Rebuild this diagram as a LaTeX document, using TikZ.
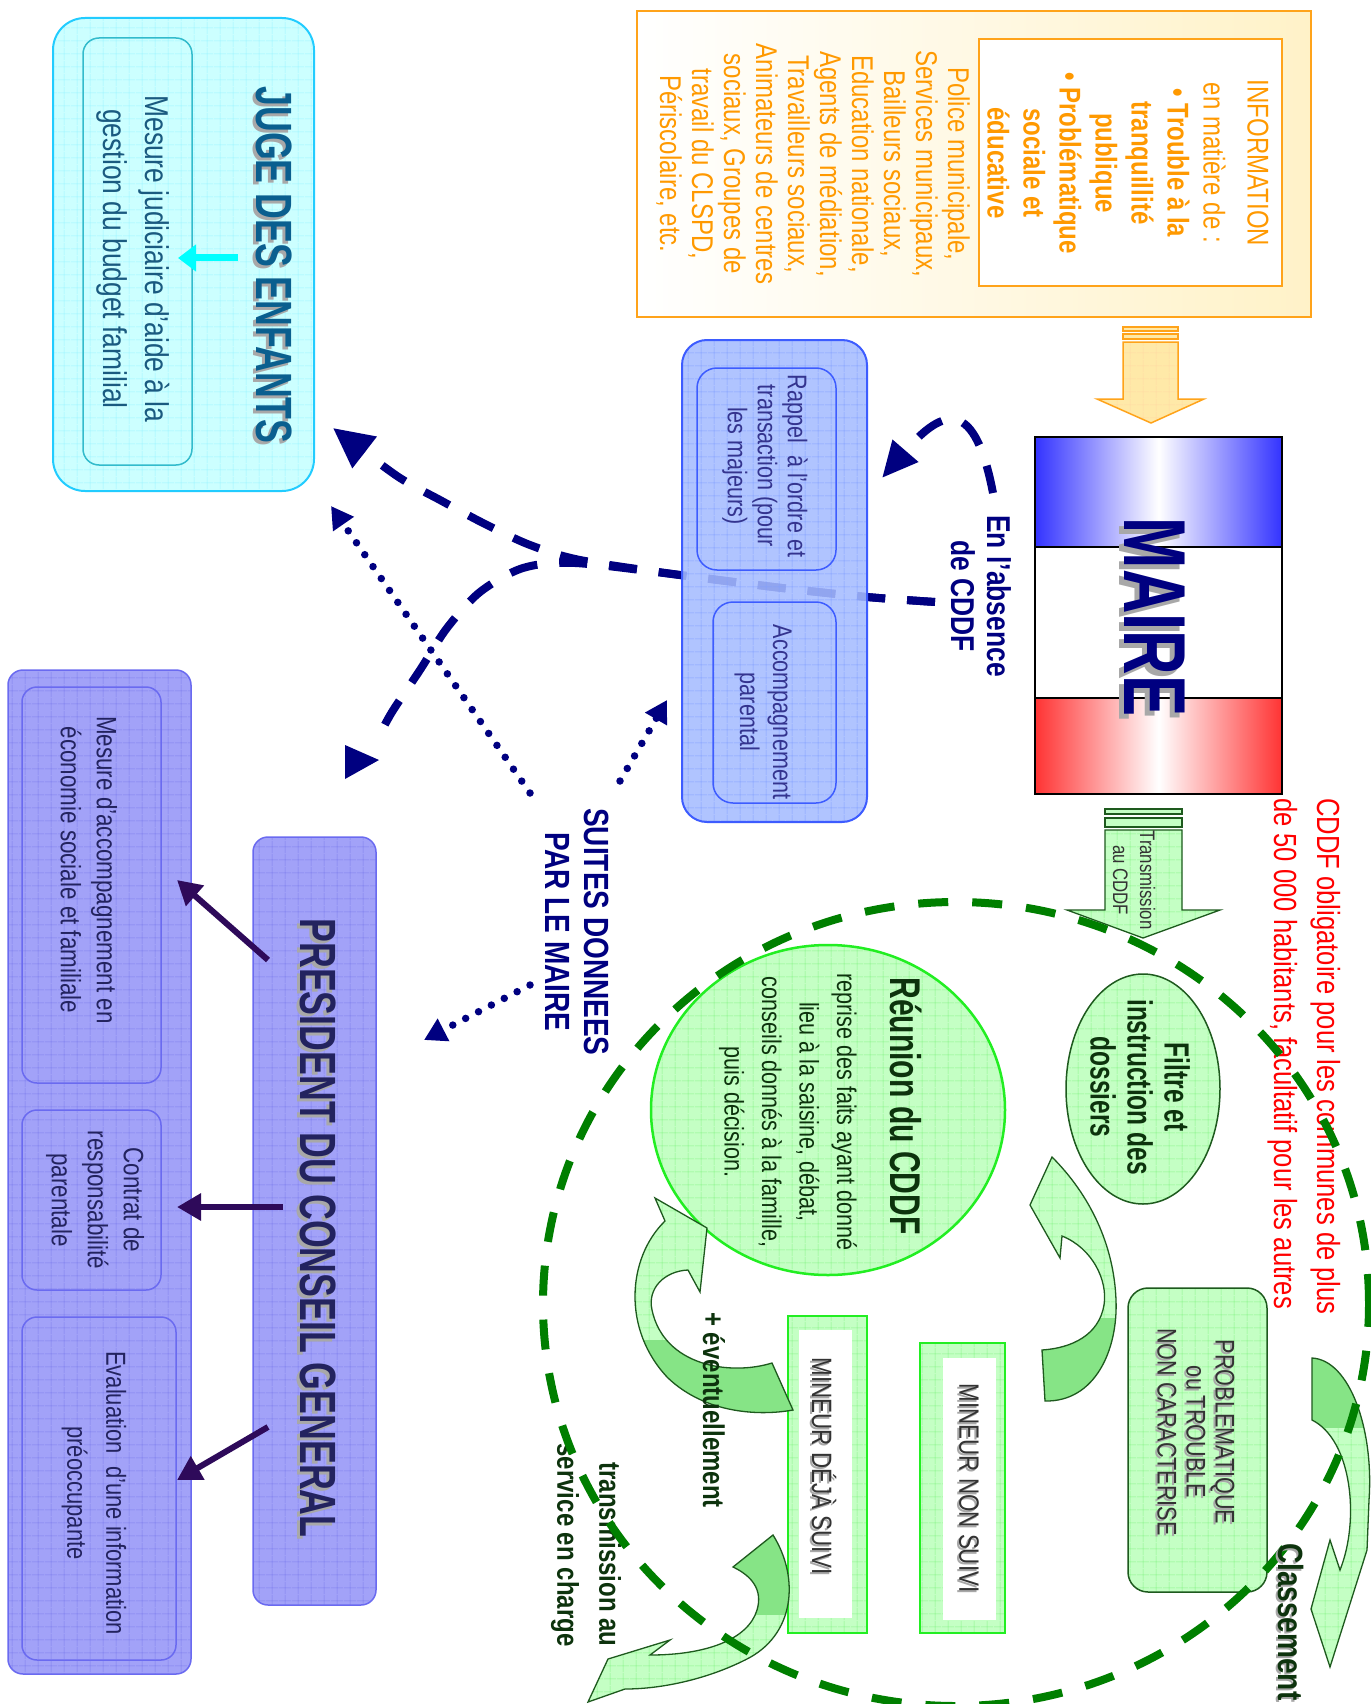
\documentclass[tikz,border=0pt]{standalone}
\usepackage{fontspec}
\setmainfont[FakeStretch=0.8]{Liberation Sans}
\newfontfamily\narr[FakeStretch=0.7]{Liberation Sans}
\usetikzlibrary{arrows.meta,patterns.meta,shapes.geometric}
\definecolor{orangeC}{HTML}{FF9900}
\definecolor{orangeB}{HTML}{FFA31A}
\definecolor{orangeL}{HTML}{FFE9A8}
\definecolor{infoY}{HTML}{FFF2C8}
\definecolor{navyC}{HTML}{000080}
\definecolor{flagB}{HTML}{3333FF}
\definecolor{flagR}{HTML}{FF3333}
\definecolor{boxB}{HTML}{A6BCFF}
\definecolor{boxBg}{HTML}{809EFF}
\definecolor{boxBd}{HTML}{3D5CFF}
\definecolor{txtB}{HTML}{34348F}
\definecolor{cyanF}{HTML}{CCFFFF}
\definecolor{cyanG}{HTML}{9EF5FF}
\definecolor{cyanBd}{HTML}{22CCFF}
\definecolor{cyanIn}{HTML}{33BBCC}
\definecolor{cyanArr}{HTML}{00FFFF}
\definecolor{jugeT}{HTML}{0A5F8F}
\definecolor{jugeTxt}{HTML}{1A5A80}
\definecolor{lavF}{HTML}{A2A2F8}
\definecolor{lavG}{HTML}{8080EE}
\definecolor{lavBd}{HTML}{6A6AF0}
\definecolor{cgT}{HTML}{23235F}
\definecolor{cgA}{HTML}{2E0A5A}
\definecolor{grF}{HTML}{C4FFC4}
\definecolor{grG}{HTML}{8CF58C}
\definecolor{grBd}{HTML}{1E5A1E}
\definecolor{grBright}{HTML}{22EE22}
\definecolor{grDash}{HTML}{007F00}
\definecolor{grDark}{HTML}{86E486}
\definecolor{grTxt}{HTML}{0D330D}
\definecolor{grayT}{HTML}{333333}
\definecolor{shadowC}{HTML}{A8A8A8}
\newcommand\maireF{\narr\bfseries\fontsize{88}{88}\selectfont}
\newcommand\jugeF{\narr\bfseries\fontsize{51}{51}\selectfont}
\newcommand\presF{\narr\bfseries\fontsize{51}{51}\selectfont}
\newcommand\probF{\fontsize{27}{29}\selectfont}
\newcommand\minF{\fontsize{28}{30}\selectfont}
\newcommand\classF{\bfseries\fontsize{35}{35}\selectfont}
\def\gAa{(1312,1358) .. controls (1350,1360) and (1374,1430) .. (1369,1500) -- (1367,1550) -- (1330,1667) -- (1311,1609) -- (1330,1540) -- (1340,1570) .. controls (1360,1520) and (1352,1440) .. (1312,1420) -- cycle}
\def\gAb{(1045,1401) .. controls (1095,1402) and (1118,1350) .. (1116,1300) .. controls (1114,1245) and (1090,1195) .. (1052,1157) -- (1030,1205) -- (1060,1258) -- (1062,1236) .. controls (1092,1248) and (1108,1280) .. (1104,1305) .. controls (1099,1335) and (1072,1348) .. (1042,1350) -- cycle}
\def\gAc{(793,1410) -- (772,1363) .. controls (730,1376) and (664,1366) .. (652,1310) .. controls (647,1288) and (665,1271) .. (688,1270) -- (700,1292) -- (707,1228) -- (655,1198) -- (665,1221) .. controls (627,1258) and (622,1330) .. (668,1378) .. controls (706,1414) and (760,1416) .. (793,1410) -- cycle}
\def\gAd{(733,1567) -- (773,1535) .. controls (800,1578) and (795,1636) .. (745,1660) .. controls (705,1680) and (660,1689) .. (625,1689) -- (588,1702) -- (608,1659) -- (670,1640) -- (650,1655) .. controls (705,1655) and (748,1640) .. (757,1610) .. controls (763,1590) and (752,1576) .. (733,1567) -- cycle}
\begin{document}
\begin{tikzpicture}[x=1pt,y=-1pt,
  gridfill/.style 2 args={preaction={fill=#1},pattern={Hatch[distance=13pt,angle=0,line width=0.5pt]},pattern color=#2},
  rtext/.style={rotate=-90,align=center,inner sep=0pt},
  navydash/.style={draw=navyC,line width=8pt,dash pattern=on 28pt off 22pt},
  navydot/.style={draw=navyC,line width=7.5pt,dash pattern=on 0pt off 14.5pt,line cap=round,-{Triangle[length=22pt,width=24pt]}},
  cgarrow/.style={draw=cgA,line width=6pt,-{Triangle[length=24pt,width=26pt]}},
  garrow/.style={draw=grBd,line width=1.3pt},
  box/.style={inner sep=0pt,outer sep=0pt}]
\useasboundingbox (0,0) rectangle (1370,1704);
\fill[white] (0,0) rectangle (1370,1704);

% ---------- INFORMATION ----------
\node[box,draw=orangeB,line width=2pt,left color=white,right color=infoY,minimum width=674pt,minimum height=306pt] (info) at (974,164) {};
\node[box,draw=orangeB,line width=2pt,fill=white,minimum width=303pt,minimum height=247pt] (infoin) at (1130.5,162.5) {};
\node[rtext,text=orangeC,font=\fontsize{30}{36}\selectfont] (infotxt) at (1128,163) {INFORMATION\\[8pt] en matière de :\\ \textbf{• Trouble à la}\\ \textbf{tranquillité}\\ \textbf{publique}\\ \textbf{• Problématique}\\ \textbf{sociale et}\\ \textbf{éducative}};
\node[rtext,text=orangeC,font=\fontsize{30}{32}\selectfont] (police) at (813,164) {Police municipale,\\Services municipaux,\\Bailleurs sociaux,\\Education nationale,\\Agents de médiation,\\Travailleurs sociaux,\\Animateurs de centres\\sociaux, Groupes de\\travail du CLSPD,\\Périscolaire, etc.};
% orange block arrow
\draw[orangeB,line width=1.2pt,fill=orangeL] (1123,327) rectangle (1178,331);
\draw[orangeB,line width=1.2pt,fill=orangeL] (1123,334) rectangle (1178,339);
\draw[orangeB,line width=1.5pt,gridfill={orangeL}{orangeB!40}] (1123,342) -- (1178,342) -- (1178,399) -- (1204,399) -- (1151,423) -- (1097,399) -- (1123,399) -- cycle;

% ---------- MAIRE flag ----------
\node[box,minimum width=247pt,minimum height=110pt,left color=flagB,right color=flagB,middle color=white] (flagb) at (1158.5,492) {};
\node[box,minimum width=247pt,minimum height=151pt,fill=white] (flagw) at (1158.5,622.5) {};
\node[box,minimum width=247pt,minimum height=96pt,left color=flagR,right color=flagR,middle color=white] (flagr) at (1158.5,746) {};
\draw[black,line width=2pt] (flagb.north west) rectangle (flagr.south east);
\draw[black,line width=2pt] (flagw.north west) -- (flagw.north east) (flagw.south west) -- (flagw.south east);
\node[rtext,text=shadowC,font=\maireF] at (1150,622) {MAIRE};
\node[rtext,text=navyC,font=\maireF] (maire) at (1155,617) {MAIRE};

% ---------- navy dashed curves (under blue box) ----------
\coordinate (cs) at (935,602);
\coordinate (cjuge) at (333,428);
\coordinate (cpres) at (378,738);
\draw[navydash,-{Triangle[length=40pt,width=38pt]}] plot[smooth] coordinates {(cs) (867,597) (782,588) (680,575) (580,560) (530,545) (485,524) (440,500) (397,476) (cjuge)};
\draw[navydash] plot[smooth] coordinates {(cs) (867,597) (782,588) (680,575) (575,563) (523,568) (480,592) (447,628) (420,670) (392,712) (cpres)};
\fill[navyC] (345,745) -- (379,760) -- (345,779) -- cycle;

% ---------- blue box ----------
\node[box,draw=boxBd,line width=2pt,rounded corners=25pt,gridfill={boxB}{boxBg},fill opacity=0.88,minimum width=185pt,minimum height=482pt] (bluebox) at (774.5,581) {};
\node[box,draw=boxBd,line width=1.5pt,rounded corners=20pt,minimum width=139pt,minimum height=202pt] (rappel) at (766.5,469) {};
\node[box,draw=boxBd,line width=1.5pt,rounded corners=20pt,minimum width=123pt,minimum height=201pt] (accomp) at (774.5,702.5) {};
\node[rtext,text=txtB,font=\fontsize{27}{30}\selectfont] (rappeltxt) at (765,466) {Rappel\ \ à l’ordre et\\transaction (pour\\les majeurs)};
\node[rtext,text=txtB,font=\fontsize{27}{33}\selectfont] (accomptxt) at (763,712) {Accompagnement\\parental};

% ---------- curve C ----------
\coordinate (ccs) at (993,493);
\coordinate (cce) at (882,478);
\draw[navydash,-{Triangle[length=36pt,width=32pt]}] (ccs) .. controls (975,400) and (945,405) .. (cce);
\node[rtext,text=navyC,font=\bfseries\fontsize{33}{36}\selectfont] (absence) at (981,596) {En l’absence\\de CDDF};

% ---------- JUGE ----------
\node[box,draw=cyanBd,line width=2pt,rounded corners=32pt,gridfill={cyanF}{cyanG},minimum width=261pt,minimum height=473pt] (juge) at (183.5,254.5) {};
\node[box,draw=cyanIn,line width=1.5pt,rounded corners=16pt,minimum width=109pt,minimum height=427pt] (jugein) at (137.5,251.5) {};
\node[rtext,text=shadowC,font=\jugeF] at (271,268) {JUGE DES ENFANTS};
\node[rtext,text=jugeT,font=\jugeF] (jugetxt) at (274,265) {JUGE DES ENFANTS};
\node[rtext,text=jugeTxt,font=\fontsize{33}{42}\selectfont] (jugeintxt) at (133,259) {Mesure judiciaire d’aide à la\\gestion du budget familial};
\coordinate (cyS) at (238,258);
\coordinate (cyE) at (178,258);
\draw[cyanArr,line width=7pt,-{Triangle[length=18pt,width=26pt]}] (cyS) -- (cyE);

% ---------- PRESIDENT / CG ----------
\node[box,draw=lavBd,line width=1.5pt,rounded corners=15pt,gridfill={lavF}{lavG},minimum width=183pt,minimum height=1004pt] (cg) at (99.5,1172) {};
\node[box,draw=lavBd,line width=1.5pt,rounded corners=15pt,minimum width=139pt,minimum height=396pt] (mesure) at (91.5,885) {};
\node[box,draw=lavBd,line width=1.5pt,rounded corners=15pt,minimum width=139pt,minimum height=180pt] (contrat) at (91.5,1200) {};
\node[box,draw=lavBd,line width=1.5pt,rounded corners=15pt,minimum width=154pt,minimum height=343pt] (evalu) at (99,1488.5) {};
\node[box,draw=lavBd,line width=1.5pt,rounded corners=15pt,gridfill={lavF}{lavG},minimum width=123pt,minimum height=768pt] (pres) at (314.5,1221) {};
\node[rtext,text=shadowC,font=\presF] at (315,1231) {PRESIDENT DU CONSEIL GENERAL};
\node[rtext,text=cgT,font=\presF] (prestxt) at (318,1228) {PRESIDENT DU CONSEIL GENERAL};
\node[rtext,text=cgT,font=\fontsize{28}{36}\selectfont] (mesuretxt) at (89,870) {Mesure d’accompagnement en\\économie sociale et familiale};
\node[rtext,text=cgT,font=\fontsize{28}{36}\selectfont] (contrattxt) at (95,1200) {Contrat de\\responsabilité\\parentale};
\node[rtext,text=cgT,font=\fontsize{27.5}{39}\selectfont] (evaltxt) at (94,1493) {Evaluation\ \ d’une information\\préoccupante};
\coordinate (pa1) at (268,960);
\coordinate (pa2) at (283,1207);
\coordinate (pa3) at (268,1427);
\coordinate (pb1) at (177,880);
\coordinate (pb2) at (177,1207);
\coordinate (pb3) at (177,1480);
\draw[cgarrow] (pa1) -- (pb1);
\draw[cgarrow] (pa2) -- (pb2);
\draw[cgarrow] (pa3) -- (pb3);

% ---------- SUITES DONNEES ----------
\node[rtext,text=navyC,font=\bfseries\fontsize{35}{39}\selectfont] (suites) at (577,932) {SUITES DONNEES\\PAR LE MAIRE};
\coordinate (d1) at (530,793);
\coordinate (d2) at (620,781);
\coordinate (d3) at (530,985);
\coordinate (e1) at (331,506);
\coordinate (e2) at (667,700);
\coordinate (e3) at (424,1040);
\draw[navydot] (d1) -- (e1);
\draw[navydot] (d2) -- (e2);
\draw[navydot] (d3) -- (e3);

% ---------- red text ----------
\node[rtext,anchor=west,align=left,text=red,font=\fontsize{32}{43}\selectfont] (cddf) at (1304,798) {CDDF obligatoire pour les communes de plus\\de 50 000 habitants, facultatif pour les autres};

% ---------- CDDF zone ----------
\draw[grBd,line width=1.2pt,fill=grF] (1105,809) rectangle (1182,814);
\draw[grBd,line width=1.2pt,fill=grF] (1105,818) rectangle (1182,827);
\draw[grBd,line width=1.3pt,gridfill={grF}{grG}] (1105,830) -- (1182,830) -- (1182,910) -- (1220,910) -- (1143,938) -- (1067,910) -- (1105,910) -- cycle;
\node[rtext,text=grayT,font=\fontsize{21}{27}\selectfont] (transm) at (1134,880) {Transmission\\au CDDF};

\node[box,ellipse,draw=grBd,line width=1.5pt,gridfill={grF}{grG},minimum width=154pt,minimum height=230pt] (filtre) at (1143,1089) {};
\node[rtext,text=grTxt,font=\narr\bfseries\fontsize{35}{37}\selectfont] (filtretxt) at (1140,1087) {Filtre et\\instruction des\\dossiers};

\node[box,ellipse,draw=grBright,line width=2.5pt,gridfill={grF}{grG},minimum width=354pt,minimum height=330pt] (reunion) at (828,1110) {};
\node[rtext,text=grTxt,font=\narr\bfseries\fontsize{43}{43}\selectfont] (reuniontit) at (906,1106) {Réunion du CDDF};
\node[rtext,text=grTxt,font=\fontsize{27}{37.5}\selectfont] (reuniontxt) at (788,1112) {reprise des faits ayant donné\\lieu à la saisine, débat,\\conseils donnés à la famille,\\puis décision.};

\node[box,draw=grBd,line width=1.5pt,rounded corners=20pt,gridfill={grF}{grG},minimum width=139pt,minimum height=304pt] (probl) at (1197.5,1440) {};
\node[rtext,text=shadowC,font=\probF] at (1194,1434) {PROBLEMATIQUE\\ou TROUBLE\\NON CARACTERISE};
\node[rtext,text=grayT,font=\probF] (probltxt) at (1196,1432) {PROBLEMATIQUE\\ou TROUBLE\\NON CARACTERISE};

\node[box,draw=grBright,line width=2pt,gridfill={grF}{grG},minimum width=85pt,minimum height=290pt] (nonsuivi) at (962.5,1488) {};
\node[box,fill=white,minimum width=53pt,minimum height=262pt] at (969.5,1489) {};
\node[rtext,text=shadowC,font=\minF] at (967,1490) {MINEUR NON SUIVI};
\node[rtext,text=grayT,font=\minF] (nonsuivitxt) at (969,1488) {MINEUR NON SUIVI};

\node[box,draw=grBright,line width=2pt,gridfill={grF}{grG},minimum width=79pt,minimum height=317pt] (dejasuivi) at (827.5,1474.5) {};
\node[box,fill=white,minimum width=53pt,minimum height=288pt] at (825.5,1474) {};
\node[rtext,text=shadowC,font=\minF] at (822,1468) {MINEUR DÉJÀ SUIVI};
\node[rtext,text=grayT,font=\minF] (dejasuivitxt) at (824,1466) {MINEUR DÉJÀ SUIVI};

% curved green arrows
\fill[gridfill={grF}{grG}] \gAa;
\begin{scope}\clip \gAa; \fill[grDark] (1300,1350) rectangle (1375,1428);\end{scope}
\draw[garrow] \gAa;
\fill[gridfill={grF}{grG}] \gAb;
\begin{scope}\clip \gAb; \fill[grDark] (1025,1318) rectangle (1125,1410);\end{scope}
\draw[garrow] \gAb;
\fill[gridfill={grF}{grG}] \gAc;
\begin{scope}\clip \gAc; \fill[grDark] (625,1340) rectangle (800,1420);\end{scope}
\draw[garrow] \gAc;
\fill[gridfill={grF}{grG}] \gAd;
\begin{scope}\clip \gAd; \fill[grDark] (725,1525) rectangle (805,1615);\end{scope}
\draw[garrow] \gAd;

\node[rtext,text=grTxt,font=\bfseries\fontsize{30}{30}\selectfont] (eventu) at (714,1410) {+ éventuellement};
\node[rtext,align=right,text=grTxt,font=\bfseries\fontsize{30}{42}\selectfont] (transserv) at (586,1545) {transmission au\\service en charge};

% big dashed ellipse
\draw[grDash,line width=8pt,dash pattern=on 30pt off 24pt] (956,1304) ellipse [x radius=413pt,y radius=402pt];

\node[rtext,anchor=west,text=shadowC,font=\classF] at (1289,1545) {Classement};
\node[rtext,anchor=west,text=grTxt,font=\classF] (classement) at (1291,1543) {Classement};
\end{tikzpicture}
\end{document}
